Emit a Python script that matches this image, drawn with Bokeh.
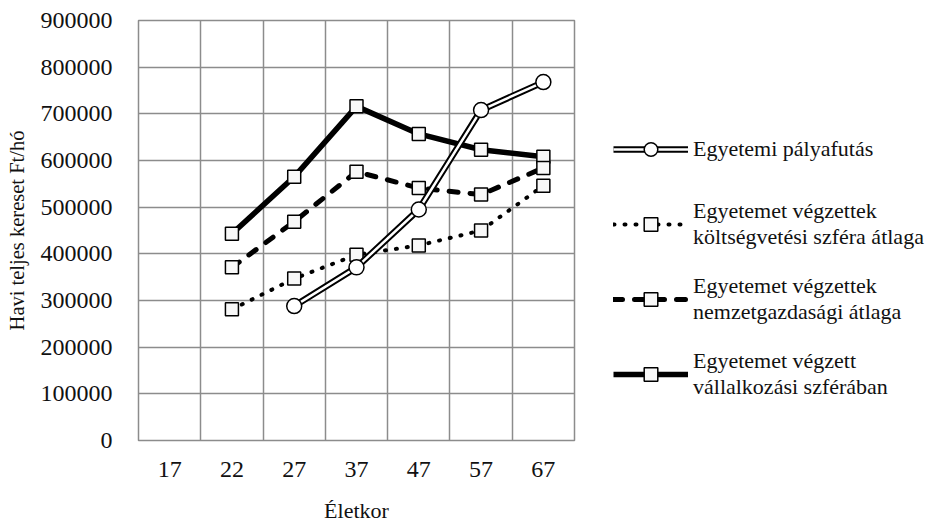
from bokeh.plotting import figure
from bokeh.models import FixedTicker, Legend, LegendItem, Range1d, NumeralTickFormatter
from bokeh.layouts import row
from bokeh.embed import file_html
from bokeh.resources import INLINE

nan = float("nan")

ages = ["17", "22", "27", "37", "47", "57", "67"]
y_ticks = [0, 100000, 200000, 300000, 400000, 500000, 600000, 700000, 800000, 900000]

egyetemi = [nan, nan, 288000, 371000, 495000, 708000, 768000]
koltsegvetesi = [nan, 281000, 347000, 398000, 418000, 450000, 546000]
nemzetgazdasagi = [nan, 371000, 469000, 576000, 541000, 527000, 584000]
vallalkozasi = [nan, 443000, 565000, 716000, 657000, 623000, 608000]

labels = [
    "Egyetemi pályafutás",
    "Egyetemet végzettek\nköltségvetési szféra átlaga",
    "Egyetemet végzettek\nnemzetgazdasági átlaga",
    "Egyetemet végzett\nvállalkozási szférában",
]

FONT = "Liberation Serif"
GRID = "#8c8c8c"
TXT = "#111111"
SQ_FILL = "#f8f8f8"

xs = list(range(1, len(ages) + 1))

H = 525

p = figure(output_backend="svg", toolbar_location=None,
           width=580, height=H,
           min_border_left=138, min_border_top=20, min_border_bottom=83, min_border_right=6,
           x_range=Range1d(0.5, len(ages) + 0.5), y_range=Range1d(y_ticks[0], y_ticks[-1]))

p.outline_line_color = GRID
p.outline_line_width = 1.5

p.xgrid.ticker = FixedTicker(ticks=[i + 0.5 for i in range(len(ages) + 1)])
p.ygrid.ticker = FixedTicker(ticks=y_ticks)
for g in (p.xgrid, p.ygrid):
    g.grid_line_color = GRID
    g.grid_line_width = 1.5

p.xaxis.ticker = FixedTicker(ticks=xs)
p.xaxis.major_label_overrides = {x: a for x, a in zip(xs, ages)}
p.yaxis.ticker = FixedTicker(ticks=y_ticks)
p.yaxis.formatter = NumeralTickFormatter(format="0")

for ax in (p.xaxis, p.yaxis):
    ax.axis_line_color = None
    ax.major_tick_line_color = None
    ax.minor_tick_line_color = None
    ax.major_label_text_font = FONT
    ax.major_label_text_font_size = "24px"
    ax.major_label_text_color = TXT
    ax.axis_label_text_font = FONT
    ax.axis_label_text_font_style = "normal"
    ax.axis_label_text_color = TXT

p.xaxis.axis_label = "Életkor"
p.yaxis.axis_label = "Havi teljes kereset Ft/hó"
p.xaxis.axis_label_text_font_size = "22px"
p.yaxis.axis_label_text_font_size = "20.5px"
p.xaxis.major_label_standoff = 15
p.xaxis.axis_label_standoff = 18
p.yaxis.major_label_standoff = 20
p.yaxis.axis_label_standoff = 10

# vállalkozási
p.line(xs, vallalkozasi, line_color="black", line_width=5.5)
p.scatter(xs, vallalkozasi, marker="square", size=13, fill_color=SQ_FILL,
          line_color="black", line_width=1.5)
# nemzetgazdasági
p.line(xs, nemzetgazdasagi, line_color="black", line_width=5, line_dash="9 12", line_cap="round")
p.scatter(xs, nemzetgazdasagi, marker="square", size=13, fill_color=SQ_FILL,
          line_color="black", line_width=1.5)
# költségvetési
p.line(xs, koltsegvetesi, line_color="black", line_width=4, line_dash="1 10", line_cap="round")
p.scatter(xs, koltsegvetesi, marker="square", size=13, fill_color=SQ_FILL,
          line_color="black", line_width=1.5)
# egyetemi
p.line(xs, egyetemi, line_color="black", line_width=6.5)
p.line(xs, egyetemi, line_color="white", line_width=2.5)
p.scatter(xs, egyetemi, marker="circle", size=15, fill_color="white",
          line_color="black", line_width=1.5)

# legend panel (style samples only; their data is NaN so nothing is plotted)
lg = figure(output_backend="svg", toolbar_location=None, width=350, height=H,
            min_border=0, x_axis_location=None, y_axis_location=None,
            x_range=Range1d(0, 1), y_range=Range1d(0, 1))
lg.grid.visible = False
lg.outline_line_color = None

e = [nan]
k1a = lg.line(e, e, line_color="black", line_width=6.5)
k1b = lg.line(e, e, line_color="white", line_width=2.5)
k1m = lg.scatter(e, e, marker="circle", size=15, fill_color="white", line_color="black", line_width=1.5)
k2l = lg.line(e, e, line_color="black", line_width=4, line_dash="1 10", line_cap="round")
k2m = lg.scatter(e, e, marker="square", size=13, fill_color=SQ_FILL, line_color="black", line_width=1.5)
k3l = lg.line(e, e, line_color="black", line_width=5, line_dash="9 12", line_cap="round")
k3m = lg.scatter(e, e, marker="square", size=13, fill_color=SQ_FILL, line_color="black", line_width=1.5)
k4l = lg.line(e, e, line_color="black", line_width=5.5)
k4m = lg.scatter(e, e, marker="square", size=13, fill_color=SQ_FILL, line_color="black", line_width=1.5)

legend = Legend(items=[
    LegendItem(label=labels[0], renderers=[k1a, k1b, k1m]),
    LegendItem(label=labels[1], renderers=[k2l, k2m]),
    LegendItem(label=labels[2], renderers=[k3l, k3m]),
    LegendItem(label=labels[3], renderers=[k4l, k4m]),
], location=(33, 38), glyph_width=75, glyph_height=34, label_standoff=5, label_height=56,
    padding=0, margin=0, spacing=19, border_line_alpha=0, background_fill_alpha=0,
    label_text_font=FONT, label_text_font_size="22px", label_text_color=TXT,
    label_text_line_height=1.27)
lg.add_layout(legend, "center")

layout = row(p, lg)
open("out.html", "w").write(file_html(layout, INLINE))
